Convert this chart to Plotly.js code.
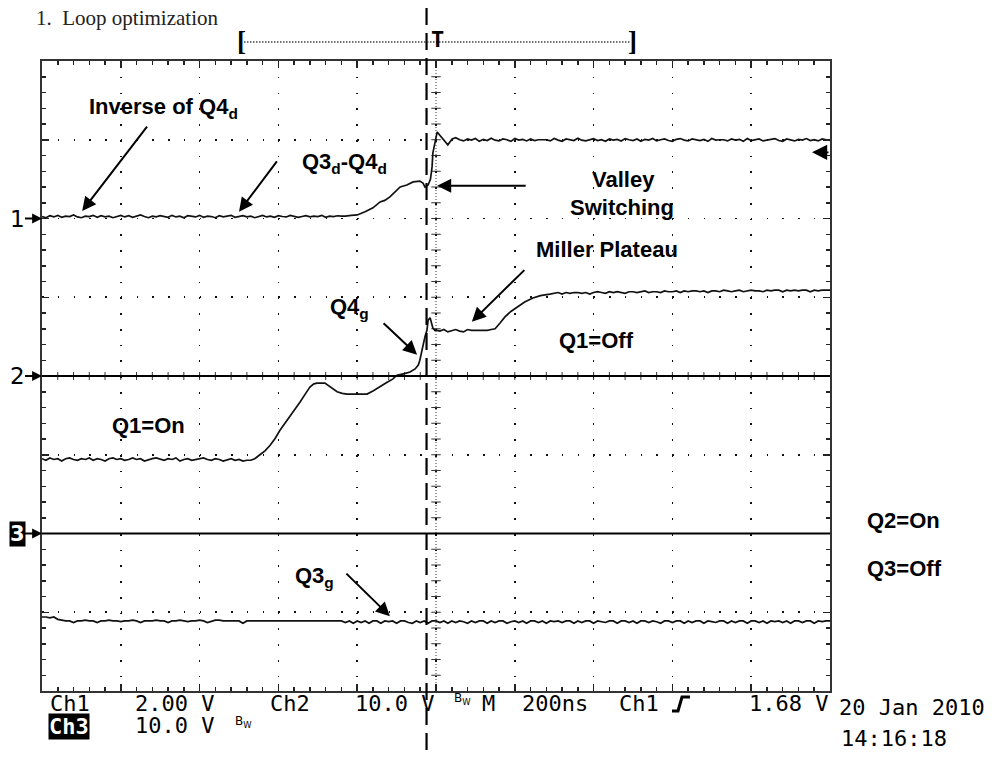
<!DOCTYPE html>
<html><head><meta charset="utf-8">
<script src="https://cdn.plot.ly/plotly-3.0.1.min.js"></script>
<style>html,body{margin:0;padding:0;background:#fff}#chart{width:994px;height:758px}</style>
</head><body><div id="chart"></div>
<script>
const SAMPLE_NS = 10;
const TIME_RANGE = [-1000, 1000];      // 200 ns/div, 10 div
const CH1_RANGE = [-12, 4];            // 2.00 V/div, ground at +2 div
const CH2_RANGE = [-40, 40];           // 10.0 V/div, ground at centre
const CH3_RANGE = [-20, 60];           // 10.0 V/div, ground at -2 div
const TRIG_LEVEL = 1.68;
const CURSOR_T = -24;

// ---- Ch1 : Inverse of Q4d / Q3d-Q4d (V) ----
const ch1LowStart = -1000;
const ch1Low = [0.05,0.02,0.07,0.04,0.08,0.03,0.06,0.05,0.09,0.04,
0.02,0.06,0.05,0.08,0.03,0.07,0.04,0.06,0.02,0.05,
0.08,0.04,0.07,0.03,0.06,0.09,0.05,0.02,0.06,0.04,
0.07,0.05,0.03,0.08,0.04,0.06,0.02,0.07,0.05,0.04,
0.08,0.03,0.06,0.05,0.02,0.07,0.04,0.06,0.08,0.03,
0.05,0.07,0.04,0.06,0.02,0.05,0.08,0.04,0.06,0.03,
0.07,0.05,0.04,0.08,0.06,0.03,0.05,0.07,0.04,0.06,
0.05,0.08,0.03,0.06,0.05,0.07,0.06];
const ch1EdgeT = [-230,-215,-200,-180,-160,-142,-130,-117,-105,-91,-74,-58,-41,-33,-28,-20,-14,-10,-8,-3,3,5,15,23,30,41,50];
const ch1EdgeV = [0.06,0.08,0.09,0.17,0.27,0.42,0.46,0.55,0.66,0.80,0.85,0.93,0.95,0.90,0.80,0.85,1.00,1.31,1.66,1.92,2.20,2.17,2.04,1.94,1.87,2.02,2.05];
const ch1HighStart = 60;
const ch1High = [2.00,1.97,2.02,1.99,2.03,1.96,2.01,1.98,2.04,1.99,
1.97,2.02,2.00,1.96,2.03,1.99,2.01,1.97,2.02,1.98,
2.00,2.00,2.00,1.97,2.03,1.99,1.96,2.02,2.00,1.98,
2.04,1.99,1.97,2.01,2.03,1.98,2.00,1.96,2.02,1.99,
2.01,1.97,2.03,2.00,1.98,2.02,1.96,2.01,1.99,2.03,
1.97,2.00,2.02,1.98,1.96,2.01,2.03,1.99,1.97,2.02,
2.00,1.98,2.01,1.96,2.03,1.99,2.00,2.00,1.97,2.02,
1.99,2.01,1.96,2.03,1.98,2.00,2.02,1.97,1.99,2.01,
2.03,1.98,1.96,2.02,2.00,1.97,2.01,1.99,2.03,1.98,
2.00,1.97,2.02,1.99,1.98];

// ---- Ch2 : Q4g (V) ----
const ch2LowStart = -1000;
const ch2Low = [-10.5,-10.7,-10.4,-10.6,-10.5,-10.8,-10.5,-10.4,-10.6,-10.7,
-10.5,-10.6,-10.4,-10.7,-10.5,-10.6,-10.8,-10.5,-10.4,-10.6,
-10.5,-10.7,-10.6,-10.4,-10.6,-10.5,-10.8,-10.6,-10.5,-10.4,
-10.6,-10.7,-10.5,-10.6,-10.4,-10.8,-10.6,-10.5,-10.7,-10.6,
-10.5,-10.4,-10.6,-10.7,-10.5,-10.6,-10.8,-10.6,-10.5,-10.7,
-10.6,-10.8,-10.7];
const ch2EdgeT = [-470,-460,-447,-434,-421,-408,-396,-383,-371,-358,-345,-332,-320,-310,-302,-282,-269,-251,-238,-226,-200,-175,-160,-142,-124,-110,-99,-80,-66,-53,-45,-41,-37,-33,-28,-23,-20,-15,-11,-8,-3,3];
const ch2EdgeV = [-10.7,-10.5,-10.0,-9.5,-8.8,-7.9,-6.9,-6.0,-5.2,-4.3,-3.3,-2.3,-1.4,-1.0,-0.9,-0.9,-1.4,-2.0,-2.2,-2.3,-2.3,-2.3,-1.9,-1.4,-0.8,-0.4,0.1,0.3,0.5,0.9,1.4,2.0,3.0,4.2,5.0,5.8,7.1,7.4,6.8,6.1,5.8,5.8];
const ch2PlateauStart = 10;
const ch2Plateau = [5.7,5.9,5.6,5.8,5.9,5.7,5.6,5.9,5.8,5.8,5.8,5.8,5.8,5.9];
const ch2RiseT = [150,162,175,190,206,225,246,265,289];
const ch2RiseV = [6.0,6.7,7.5,8.2,8.8,9.4,9.9,10.2,10.4];
const ch2HighStart = 300;
const ch2High = [10.5,10.6,10.4,10.6,10.5,10.6,10.6,10.5,10.6,10.4,
10.6,10.7,10.6,10.5,10.7,10.6,10.7,10.6,10.5,10.7,
10.7,10.6,10.7,10.8,10.6,10.7,10.7,10.6,10.8,10.7,
10.7,10.8,10.6,10.8,10.7,10.8,10.8,10.7,10.8,10.6,
10.8,10.8,10.7,10.9,10.8,10.7,10.8,10.9,10.7,10.8,
10.9,10.8,10.8,10.7,10.9,10.8,10.9,10.9,10.7,10.9,
10.8,10.9,10.8,10.9,10.9,10.7,10.9,10.8,10.9,10.9,
10.9];

// ---- Ch3 : Q3g (V) ----
const ch3Start = -1000;
const ch3 = [-10.6,-10.6,-10.7,-10.6,-10.9,-11.0,-11.1,-11.1,-11.3,-11.1,
-11.1,-11.0,-11.1,-11.1,-11.3,-11.1,-11.1,-11.0,-11.1,-11.1,
-11.2,-11.1,-11.1,-11.0,-11.1,-11.3,-11.1,-11.1,-11.1,-11.0,
-11.1,-11.1,-11.3,-11.1,-11.1,-11.0,-11.1,-11.2,-11.1,-11.1,
-11.0,-11.1,-11.3,-11.1,-11.0,-11.0,-11.1,-11.1,-11.1,-11.1,
-11.1,-11.4,-11.1,-11.1,-11.1,-11.1,-11.1,-11.1,-11.1,-11.1,
-11.1,-11.1,-11.1,-11.1,-11.1,-11.1,-11.1,-11.1,-11.1,-11.1,
-11.1,-11.1,-11.1,-11.1,-11.1,-11.1,-11.1,-11.3,-11.1,-11.4,
-11.1,-11.3,-11.1,-11.4,-11.1,-11.1,-11.4,-11.1,-11.2,-11.1,
-11.4,-11.1,-11.1,-11.3,-11.4,-11.1,-11.3,-11.1,-11.4,-11.1,
-11.1,-11.3,-11.1,-11.4,-11.1,-11.3,-11.1,-11.2,-11.4,-11.1,
-11.3,-11.1,-11.1,-11.4,-11.1,-11.3,-11.1,-11.1,-11.4,-11.2,
-11.1,-11.3,-11.1,-11.4,-11.1,-11.1,-11.3,-11.1,-11.4,-11.1,
-11.2,-11.1,-11.3,-11.1,-11.1,-11.4,-11.1,-11.3,-11.1,-11.1,
-11.4,-11.1,-11.2,-11.3,-11.1,-11.1,-11.4,-11.1,-11.1,-11.3,
-11.1,-11.4,-11.1,-11.1,-11.3,-11.1,-11.2,-11.4,-11.1,-11.1,
-11.3,-11.1,-11.1,-11.4,-11.1,-11.3,-11.1,-11.1,-11.4,-11.1,
-11.2,-11.3,-11.1,-11.1,-11.4,-11.1,-11.3,-11.1,-11.1,-11.4,
-11.1,-11.1,-11.3,-11.1,-11.4,-11.1,-11.2,-11.1,-11.3,-11.1,
-11.4,-11.1,-11.1,-11.3,-11.1,-11.1,-11.4,-11.1,-11.2,-11.1,
-11.1];

// ---- screen text ----
const titleText = '1.&nbsp;&nbsp;Loop optimization';
const statusRow1 = [['Ch1',48],['2.00 V',133],['Ch2',268],['10.0 V',353],['M',480],['200ns',520],['Ch1',617],['1.68 V',747]];
const statusRow2 = [['10.0 V',133]];
const dateText = '20 Jan 2010';
const timeText = '14:16:18';

// ---- assemble ----
function sampled(start, vals){ return vals.map((v,i)=>start + i*SAMPLE_NS); }
const ch1T = [...sampled(ch1LowStart,ch1Low), ...ch1EdgeT, ...sampled(ch1HighStart,ch1High)];
const ch1V = [...ch1Low, ...ch1EdgeV, ...ch1High];
const ch2T = [...sampled(ch2LowStart,ch2Low), ...ch2EdgeT, ...sampled(ch2PlateauStart,ch2Plateau), ...ch2RiseT, ...sampled(ch2HighStart,ch2High)];
const ch2V = [...ch2Low, ...ch2EdgeV, ...ch2Plateau, ...ch2RiseV, ...ch2High];
const ch3T = sampled(ch3Start, ch3);

const L=42, T=61, W=788, H=630;
const px = x => (x-L)/W;
const py = y => (T+H-y)/H;
const tline = {color:'#111', width:1.7};

const traces = [
  {x:ch1T, y:ch1V, yaxis:'y', mode:'lines', line:tline, hoverinfo:'skip'},
  {x:ch2T, y:ch2V, yaxis:'y2', mode:'lines', line:tline, hoverinfo:'skip'},
  {x:ch3T, y:ch3, yaxis:'y3', mode:'lines', line:tline, hoverinfo:'skip'}
];

const axBase = {showgrid:true, gridcolor:'#111', gridwidth:1.7, showline:true, linecolor:'#333', linewidth:2,
  mirror:'ticks', ticks:'inside', ticklen:7, tickwidth:1.5, tickcolor:'#222', showticklabels:false, zeroline:false, fixedrange:true};

const shapes = [];
// cursor (dashed)
const cx = (CURSOR_T-TIME_RANGE[0])/(TIME_RANGE[1]-TIME_RANGE[0]);
shapes.push({type:'line', xref:'paper', yref:'paper', x0:cx, x1:cx, y0:py(8), y1:py(752), line:{color:'#000', width:2.2, dash:'17px,8px'}, layer:'above'});
// centre vertical graticule
shapes.push({type:'line', xref:'x', yref:'paper', x0:0, x1:0, y0:1, y1:0, line:{color:'#333', width:1, dash:'1px,2px'}, layer:'below'});
for(let k=1;k<40;k++) shapes.push({type:'line', xref:'x', yref:'paper', x0:-12, x1:12, y0:k/40, y1:k/40, line:{color:'#333', width:1}, layer:'below'});
for(let k=1;k<50;k++) shapes.push({type:'line', xref:'paper', yref:'paper', x0:k/50, x1:k/50, y0:0.5-4/H, y1:0.5+4/H, line:{color:'#333', width:1}, layer:'below'});
// ground reference lines ch2 & ch3
shapes.push({type:'line', xref:'paper', yref:'y2', x0:0, x1:1, y0:0, y1:0, line:{color:'#000', width:2}});
shapes.push({type:'line', xref:'paper', yref:'y3', x0:0, x1:1, y0:0, y1:0, line:{color:'#000', width:2}});
// record bracket dotted line
shapes.push({type:'line', xref:'paper', yref:'paper', x0:px(244), x1:px(630), y0:py(42), y1:py(42), line:{color:'#444', width:1.5, dash:'1.5px,1.5px'}});
// trigger edge symbol
shapes.push({type:'path', xref:'paper', yref:'paper', path:`M${px(672)},${py(711)} L${px(678)},${py(711)} L${px(682)},${py(697)} L${px(690)},${py(697)}`, line:{color:'#000', width:3}});

const lblFont = {family:'Liberation Sans, Arial, sans-serif', size:22, color:'#000', weight:700};
const monoFont = {family:'DejaVu Sans Mono, monospace', size:22, color:'#000'};
const ann = [];
function label(text, x, y, anchor){ ann.push({text, xref:'paper', yref:'paper', x:px(x), y:py(y), xanchor:anchor||'left', yanchor:'middle', showarrow:false, font:lblFont}); }
function arrow(xr, yr, x, y, dx, dy){ ann.push({text:'', xref:'x', yref:yr, x, y, ax:dx, ay:dy, showarrow:true, arrowhead:2, arrowsize:1.4, arrowwidth:2, arrowcolor:'#000', standoff:0}); }

label('Inverse of Q4<sub>d</sub>', 87, 108);
label('Q3<sub>d</sub>-Q4<sub>d</sub>', 300, 163);
label('Valley', 623, 179, 'center');
label('Switching', 622, 208, 'center');
label('Miller Plateau', 607, 249, 'center');
label('Q4<sub>g</sub>', 328, 308);
label('Q1=Off', 557, 340);
label('Q1=On', 110, 426);
label('Q2=On', 865, 520);
label('Q3=Off', 865, 568);
label('Q3<sub>g</sub>', 293, 577);

arrow('x','y', -898, 0.19, 66, -86);
arrow('x','y', -500, 0.17, 39, -52);
arrow('x','y', 3, 0.83, 90, 0);
arrow('x','y2', 91, 6.9, 54, -53);
arrow('x','y2', -48, 2.7, -35, -33);
arrow('x','y3', -117, -10.5, -45, -44);

// channel ground markers
const markFont = {family:'DejaVu Sans, sans-serif', size:23, color:'#000'};
ann.push({text:'1', xref:'paper', yref:'y', x:0, y:0, ax:-25, ay:0, showarrow:true, arrowhead:2, arrowsize:1.1, arrowwidth:1.8, arrowcolor:'#000', font:markFont, borderpad:0});
ann.push({text:'2', xref:'paper', yref:'y2', x:0, y:0, ax:-25, ay:0, showarrow:true, arrowhead:2, arrowsize:1.1, arrowwidth:1.8, arrowcolor:'#000', font:markFont, borderpad:0});
ann.push({text:'3', xref:'paper', yref:'y3', x:0, y:0, ax:-25, ay:0, showarrow:true, arrowhead:2, arrowsize:1.1, arrowwidth:1.8, arrowcolor:'#000', font:{...markFont, size:21, color:'#fff', weight:700}, bgcolor:'#000', borderpad:0});
// trigger level marker
ann.push({text:'', xref:'paper', yref:'y', x:px(812), y:TRIG_LEVEL, ax:18, ay:0, showarrow:true, arrowhead:2, arrowsize:1.9, arrowwidth:1.6, arrowcolor:'#000', standoff:0});

// title, record bracket, trigger position
ann.push({text:titleText, xref:'paper', yref:'paper', x:px(34), y:py(18), xanchor:'left', yanchor:'middle', showarrow:false, font:{family:'Liberation Serif, serif', size:21, color:'#222'}});
ann.push({text:'[', xref:'paper', yref:'paper', x:px(241), y:py(41), xanchor:'center', yanchor:'middle', showarrow:false, font:{family:'Liberation Serif, serif', size:27, color:'#000', weight:700}});
ann.push({text:']', xref:'paper', yref:'paper', x:px(632), y:py(41), xanchor:'center', yanchor:'middle', showarrow:false, font:{family:'Liberation Serif, serif', size:27, color:'#000', weight:700}});
ann.push({text:'T', xref:'paper', yref:'paper', x:px(437), y:py(40), xanchor:'center', yanchor:'middle', showarrow:false, font:{family:'DejaVu Sans Mono, monospace', size:22, color:'#000', weight:700}});

// status line
statusRow1.forEach(([t,x])=>ann.push({text:t, xref:'paper', yref:'paper', x:px(x), y:py(703), xanchor:'left', yanchor:'middle', showarrow:false, font:monoFont}));
statusRow2.forEach(([t,x])=>ann.push({text:t, xref:'paper', yref:'paper', x:px(x), y:py(725), xanchor:'left', yanchor:'middle', showarrow:false, font:monoFont}));
ann.push({text:'Ch3', xref:'paper', yref:'paper', x:px(48), y:py(726), xanchor:'left', yanchor:'middle', showarrow:false, font:{...monoFont, color:'#fff', weight:700}, bgcolor:'#000', borderpad:0});
ann.push({text:'B<sub>W</sub>', xref:'paper', yref:'paper', x:px(452), y:py(699), xanchor:'left', yanchor:'middle', showarrow:false, font:{family:'DejaVu Sans, sans-serif', size:12, color:'#000'}});
ann.push({text:'B<sub>W</sub>', xref:'paper', yref:'paper', x:px(233), y:py(722), xanchor:'left', yanchor:'middle', showarrow:false, font:{family:'DejaVu Sans, sans-serif', size:12, color:'#000'}});
ann.push({text:dateText, xref:'paper', yref:'paper', x:px(837), y:py(707), xanchor:'left', yanchor:'middle', showarrow:false, font:monoFont});
ann.push({text:timeText, xref:'paper', yref:'paper', x:px(839), y:py(738), xanchor:'left', yanchor:'middle', showarrow:false, font:monoFont});

const layout = {
  width:994, height:758, margin:{l:L, r:994-L-W, t:T, b:758-T-H},
  paper_bgcolor:'#fff', plot_bgcolor:'#fff', showlegend:false,
  xaxis:{...axBase, range:TIME_RANGE, dtick:200, tick0:0, griddash:'1.7px,14.06px',
    minor:{dtick:40, ticks:'inside', ticklen:4, tickwidth:1.5, tickcolor:'#222', showgrid:false}},
  yaxis:{...axBase, range:CH1_RANGE, dtick:2, tick0:0, griddash:'1.7px,14.05px',
    minor:{dtick:0.4, ticks:'inside', ticklen:4, tickwidth:1.5, tickcolor:'#222', showgrid:false}},
  yaxis2:{range:CH2_RANGE, overlaying:'y', visible:false, fixedrange:true},
  yaxis3:{range:CH3_RANGE, overlaying:'y', visible:false, fixedrange:true},
  shapes, annotations:ann
};
Plotly.newPlot('chart', traces, layout, {staticPlot:true, displayModeBar:false});
</script></body></html>
